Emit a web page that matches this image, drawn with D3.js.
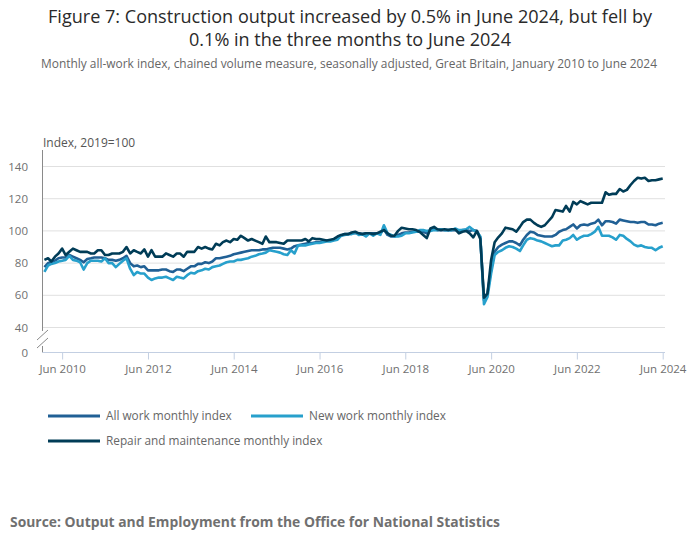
<!DOCTYPE html>
<html>
<head>
<meta charset="utf-8">
<script src="https://cdn.jsdelivr.net/npm/d3@7"></script>
<style>
  body { margin: 0; background: #fff; }
  text { font-family: "Open Sans", sans-serif; }
</style>
</head>
<body>
<script>
const width = 700, height = 549;

// monthly, January 2010 to June 2024
const months = d3.utcMonth.range(new Date(Date.UTC(2010, 0, 1)), new Date(Date.UTC(2024, 6, 1)));

const allWork = [
  77.5, 80, 80.5, 81.5, 83, 83.5, 83.5, 85, 84, 83, 82, 80.5,
  82.5, 83, 83.5, 83.5, 83.5, 83, 82, 82, 81.5, 82, 83, 84.5,
  80, 78, 78.5, 77.5, 78, 75.5, 75.5, 75.5, 75.5, 76, 76, 75,
  74.5, 76, 76, 75, 76.5, 78, 78, 79.5, 79.5, 80.5, 80, 81,
  83, 83, 83.5, 84, 84.5, 85.5, 86, 86.5, 87, 87.5, 88, 88,
  88, 88.5, 88.5, 89, 89.5, 89.5, 89.5, 89, 88.5, 89, 90.5, 91,
  91.5, 92, 92.5, 92.5, 93, 93, 93.5, 94, 94, 94.5, 95.5, 97,
  98, 98, 98.5, 98.5, 98.5, 98, 98.5, 98.5, 98.5, 98.5, 98.5, 101,
  97.5, 96.5, 96.5, 97.5, 98.5, 99, 99, 99.5, 99.5, 99.5, 99.5, 98.5,
  100.5, 101, 100.5, 100.5, 100.5, 100.5, 100.5, 100.5, 100, 100.5, 100.5, 100,
  100.5, 100, 96, 57, 61.5, 76, 87, 90, 91.5, 92.5, 93.5, 93.5,
  92.5, 91, 94.5, 97.5, 99.5, 99, 97.5, 97, 96.5, 96.5, 96.5, 97.5,
  99.5, 100.5, 101, 102.5, 104, 101.5, 103.5, 104, 103.5, 104.5, 105, 107,
  103.5, 106, 106, 105.5, 104.5, 107, 106.5, 106, 105.5, 105.5, 105, 105.5,
  105.5, 104, 104, 103.5, 104.5, 105
];

const newWork = [
  74.5, 78.5, 79.5, 80, 81, 81.5, 82, 84.5, 82, 81.5, 80.5, 76,
  80, 81.5, 81.5, 81.5, 81, 83, 80, 80, 77.5, 79.5, 81.5, 83,
  76.5, 72.5, 74.5, 73.5, 73.5, 71, 69.5, 70.5, 71, 71, 71.5, 70.5,
  69.5, 71.5, 71, 70.5, 72.5, 74, 73.5, 75, 75.5, 76.5, 76, 77.5,
  78, 78.5, 79.5, 80.5, 81, 81, 82, 82, 82.5, 83, 84, 84.5,
  85.5, 86, 86.5, 88, 87.5, 87, 86.5, 85.5, 85, 88, 86, 91,
  91, 91, 91.5, 92, 92.5, 92.5, 93, 93.5, 93.5, 94, 94.5, 97,
  97.5, 98, 98, 99, 97.5, 98, 96.5, 98.5, 97, 98.5, 97.5, 103.5,
  98.5, 97.5, 96.5, 96.5, 97, 98.5, 98.5, 99, 99.5, 100.5, 100.5, 100,
  100, 100.5, 100.5, 101, 100.5, 100.5, 100.5, 101.5, 100.5, 100.5, 101, 102.5,
  100.5, 99.5, 96.5, 54.5, 59, 73.5, 85, 87, 88, 89.5, 90.5, 90,
  89, 87.5, 91, 94.5, 95.5, 95, 94, 93.5, 92.5, 91.5, 90.5, 91,
  91, 94, 94.5, 95.5, 97.5, 94.5, 96, 97, 97, 98, 99.5, 102.5,
  97, 97, 97, 96, 94.5, 97.5, 97, 95, 93.5, 91.5, 90.5, 91,
  90, 89.5, 89.5, 88, 89.5, 90.5
];

const repair = [
  82, 83, 81, 84, 86, 89, 85, 87, 89, 88, 87, 87,
  87, 86, 86, 88, 88, 85, 85, 86, 86, 86, 87, 90,
  86, 88, 87, 86, 88.5, 84, 88, 84, 84, 84, 86, 85,
  84, 86, 86, 84, 87, 87, 87, 90, 89, 90, 89, 88.5,
  92, 91, 93, 94, 93, 95, 94.5, 97, 95.5, 94, 95, 94,
  93, 92, 96.5, 93, 93, 93, 92.5, 92, 94, 94, 94, 94,
  94, 95, 93.5, 95.5, 95, 95, 94.5, 94, 94.5, 95, 96.5, 97.5,
  98, 98, 99, 99.5, 98.5, 98, 98.5, 98.5, 98, 98.5, 99.5, 100.5,
  98.5, 97, 97, 100, 102, 101.5, 101, 101, 100.5, 99.5, 97.5, 95.5,
  101.5, 102.5, 101, 100.5, 101, 100.5, 101, 101, 98.5, 99.5, 100, 98.5,
  96, 100, 95, 58.5, 61, 82, 93, 96, 98.5, 102, 101.5, 101,
  99.5, 102.5, 105.5, 107, 107, 105, 103.5, 102.5, 103.5, 106, 108.5, 113,
  112.5, 112, 115.5, 112, 118, 116.5, 118.5, 117.5, 116.5, 117.5, 117.5, 117.5,
  117.5, 124, 122.5, 123, 123, 126, 124.5, 125.5, 128.5, 131, 133, 132.5,
  133, 131, 131.5, 131.5, 132, 132.5
];

const seriesNames = ["All work monthly index", "New work monthly index", "Repair and maintenance monthly index"];
const seriesValues = [allWork, newWork, repair];
const seriesColors = ["#206095", "#27a0cc", "#003c57"];

const yTicks = [0, 40, 60, 80, 100, 120, 140];
const xTickYears = [2010, 2012, 2014, 2016, 2018, 2020, 2022, 2024];

const svg = d3.select("body").append("svg")
    .attr("width", width)
    .attr("height", height);

// titles
svg.append("text")
    .attr("x", 350).attr("y", 23)
    .attr("text-anchor", "middle")
    .attr("font-size", 18)
    .attr("fill", "#2a2a2a")
    .attr("textLength", 604)
    .attr("lengthAdjust", "spacingAndGlyphs")
    .text("Figure 7: Construction output increased by 0.5% in June 2024, but fell by");

svg.append("text")
    .attr("x", 350).attr("y", 46)
    .attr("text-anchor", "middle")
    .attr("font-size", 18)
    .attr("fill", "#2a2a2a")
    .attr("textLength", 322)
    .attr("lengthAdjust", "spacingAndGlyphs")
    .text("0.1% in the three months to June 2024");

svg.append("text")
    .attr("x", 349).attr("y", 68)
    .attr("text-anchor", "middle")
    .attr("font-size", 12)
    .attr("fill", "#666")
    .attr("textLength", 616)
    .attr("lengthAdjust", "spacingAndGlyphs")
    .text("Monthly all-work index, chained volume measure, seasonally adjusted, Great Britain, January 2010 to June 2024");

svg.append("text")
    .attr("x", 43).attr("y", 147)
    .attr("font-size", 12)
    .attr("fill", "#555")
    .text("Index, 2019=100");

// scales
const x = d3.scaleUtc()
    .domain([months[0], months[months.length - 1]])
    .range([44.4, 662.7]);

// broken axis: 0 sits just under 40
const y = d3.scaleLinear()
    .domain([0, 40, 140])
    .range([352.5, 327.5, 166.5]);

const plotLeft = 42.5, plotRight = 665;

// gridlines
svg.append("g")
  .selectAll("line")
  .data(yTicks.filter(d => d > 0))
  .join("line")
    .attr("x1", plotLeft).attr("x2", plotRight)
    .attr("y1", d => y(d)).attr("y2", d => y(d))
    .attr("stroke", "#e0e0e0")
    .attr("stroke-width", 1);

// y labels
svg.append("g")
  .selectAll("text")
  .data(yTicks)
  .join("text")
    .attr("x", 28)
    .attr("y", d => y(d))
    .attr("dy", "0.35em")
    .attr("text-anchor", "end")
    .attr("font-size", 11.5)
    .attr("fill", "#707070")
    .text(d => d);

// y axis line with break
svg.append("line")
    .attr("x1", plotLeft).attr("x2", plotLeft)
    .attr("y1", 150).attr("y2", 331)
    .attr("stroke", "#8a8a8a");
svg.append("line")
    .attr("x1", plotLeft).attr("x2", plotLeft)
    .attr("y1", 346).attr("y2", 352.5)
    .attr("stroke", "#8a8a8a");
[0, 8].forEach(off => {
  svg.append("line")
      .attr("x1", 37).attr("y1", 340 + off)
      .attr("x2", 48).attr("y2", 330 + off)
      .attr("stroke", "#8a8a8a");
});

// x axis
const xAxis = svg.append("g")
    .attr("transform", `translate(0,352.5)`)
    .call(d3.axisBottom(x)
      .tickValues(xTickYears.map(yr => new Date(Date.UTC(yr, 5, 1))))
      .tickFormat(d3.utcFormat("%b %Y"))
      .tickSize(7)
      .tickSizeOuter(0)
      .tickPadding(5));
xAxis.select(".domain").remove();
xAxis.selectAll(".tick line").attr("stroke", "#c3cfe2");
xAxis.selectAll(".tick text")
    .attr("font-family", "Open Sans, sans-serif")
    .attr("font-size", 11.5)
    .attr("fill", "#707070");
svg.append("line")
    .attr("x1", plotLeft).attr("x2", plotRight)
    .attr("y1", 352.5).attr("y2", 352.5)
    .attr("stroke", "#c3cfe2");

// lines
const line = d3.line()
    .x((d, i) => x(months[i]))
    .y(d => y(d));

seriesValues.forEach((vals, k) => {
  svg.append("path")
      .datum(vals)
      .attr("fill", "none")
      .attr("stroke", seriesColors[k])
      .attr("stroke-width", 2.6)
      .attr("stroke-linejoin", "round")
      .attr("d", line);
});

// legend
const legendPos = [[48, 416], [251, 416], [48, 441]];
seriesNames.forEach((name, k) => {
  const [lx, ly] = legendPos[k];
  svg.append("line")
      .attr("x1", lx).attr("x2", lx + 52)
      .attr("y1", ly).attr("y2", ly)
      .attr("stroke", seriesColors[k])
      .attr("stroke-width", 3);
  svg.append("text")
      .attr("x", lx + 58).attr("y", ly)
      .attr("dy", "0.35em")
      .attr("font-size", 11.8)
      .attr("fill", "#666")
      .text(name);
});

// source
svg.append("text")
    .attr("x", 10).attr("y", 527)
    .attr("font-size", 13.5)
    .attr("font-weight", "bold")
    .attr("fill", "#707070")
    .attr("textLength", 490)
    .attr("lengthAdjust", "spacingAndGlyphs")
    .text("Source: Output and Employment from the Office for National Statistics");
</script>
</body>
</html>
